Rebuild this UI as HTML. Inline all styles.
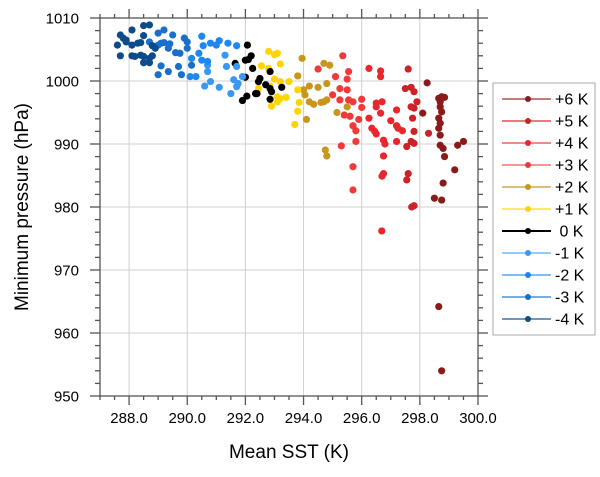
<!DOCTYPE html>
<html><head><meta charset="utf-8"><style>
body{margin:0;background:#fff;font-family:"Liberation Sans",sans-serif}
</style></head><body>
<svg id="chart" width="600" height="472" xmlns="http://www.w3.org/2000/svg" font-family="Liberation Sans, sans-serif"></svg>
<script>
const xTicks=[288,290,292,294,296,298,300];
const xTickLabels=["288.0","290.0","292.0","294.0","296.0","298.0","300.0"];
const yTicks=[950,960,970,980,990,1000,1010];
const seriesNames=["+6 K","+5 K","+4 K","+3 K","+2 K","+1 K","0 K","-1 K","-2 K","-3 K","-4 K"];
const seriesColors=["#8b1a1a","#cc2228","#e8262c","#f03a3a","#c8961e","#ffd400","#000000","#3a98f5","#1e88ee","#1a70c8","#0d4b8a"];
const legendLineColors=["#b05050","#e05050","#f06060","#f07070","#d0a850","#ffe040","#000000","#70b8f8","#50a8f0","#4c90d8","#4070a8"];
const s6=[[298.65,997.25],[298.75,997.5],[298.85,997.4],[298.7,996.7],[298.75,995.1],[298.65,994.1],[298.7,993.3],[298.65,992.5],[298.7,991.4],[298.7,989.8],[298.8,989.3],[298.85,988.0],[299.3,989.8],[299.5,990.4],[299.2,985.9],[298.8,983.8],[298.5,981.4],[298.75,981.1],[298.7,995.9],[298.65,964.2],[298.75,954.0],[298.1,994.9],[298.25,999.7]];
const s5=[[297.6,1001.9],[297.5,998.8],[297.7,999.0],[297.8,998.3],[297.9,996.7],[297.7,995.9],[297.8,995.7],[297.75,994.1],[297.8,992.0],[297.7,990.4],[297.55,989.6],[297.8,990.1],[297.6,985.3],[297.55,984.3],[298.3,991.7],[297.72,980.0],[297.8,980.2]];
const s4=[[296.25,1002.0],[296.65,1001.6],[296.65,1000.7],[296.5,996.5],[296.7,996.7],[296.5,995.9],[296.25,994.1],[296.35,992.5],[296.45,992.0],[296.5,991.6],[296.65,994.9],[296.75,990.6],[296.8,990.0],[296.75,988.1],[296.75,985.3],[296.7,984.9],[297.0,993.7],[297.2,992.9],[297.25,992.5],[297.4,992.1],[297.2,995.4],[297.2,990.4],[296.69,976.2]];
const s3=[[295.35,1004.0],[294.5,1001.9],[295.1,1000.7],[295.55,1001.5],[295.5,1000.3],[295.25,998.8],[295.5,998.6],[295.0,997.8],[295.25,997.0],[295.55,997.0],[295.7,996.7],[296.0,997.1],[295.4,994.6],[295.6,994.4],[295.7,992.9],[295.8,992.1],[295.8,990.4],[295.3,989.7],[295.7,986.4],[295.7,982.7],[295.9,993.9],[296.0,995.8]];
const s2=[[293.95,1003.6],[293.8,1000.8],[294.0,998.6],[294.2,999.2],[294.5,999.0],[294.8,999.6],[294.05,997.8],[294.2,996.7],[294.35,996.3],[294.6,996.6],[294.7,996.7],[294.8,997.0],[295.15,995.0],[294.1,993.9],[294.75,989.05],[294.8,988.1],[295.5,995.9],[294.7,1002.8],[294.9,1002.5]];
const s1=[[292.8,1004.7],[293.0,1004.2],[293.1,1004.4],[293.2,1002.7],[292.55,1002.4],[292.8,1002.0],[293.0,1000.3],[293.2,999.9],[293.5,999.9],[293.8,998.6],[293.1,997.5],[293.2,997.2],[293.4,997.4],[292.9,996.0],[293.1,996.7],[293.85,996.6],[293.8,995.2],[293.7,993.1],[292.85,999.2],[292.45,998.8]];
const s0=[[292.07,1005.7],[291.65,1002.8],[292.0,1003.3],[292.1,1003.4],[292.2,1004.0],[292.25,1002.0],[292.0,1000.6],[292.5,1000.4],[292.45,999.9],[292.7,999.4],[292.85,998.8],[292.9,998.3],[293.25,999.0],[292.4,998.0],[292.05,997.6],[291.9,996.9],[292.85,997.1],[292.85,1001.5],[292.35,998.0]];
const sm1=[[290.7,1002.5],[290.7,1001.5],[290.8,999.9],[290.6,999.2],[291.1,999.0],[291.3,1004.1],[291.35,1002.3],[291.7,1002.3],[291.6,1000.2],[291.75,999.6],[291.7,999.1],[291.9,1000.7],[291.5,998.0]];
const sm2=[[290.5,1007.1],[290.55,1005.6],[290.8,1006.0],[291.0,1005.7],[291.1,1006.4],[291.4,1006.0],[291.7,1005.6],[290.1,1000.7],[290.3,1000.7],[290.4,1004.4],[290.15,1003.6],[290.5,1003.3],[290.7,1003.1]];
const sm3=[[289.0,1007.6],[289.2,1008.1],[289.5,1007.3],[288.7,1006.2],[289.0,1005.7],[289.1,1006.0],[289.2,1006.1],[289.4,1005.9],[289.35,1005.2],[289.6,1004.5],[289.75,1004.4],[289.1,1002.4],[289.35,1001.5],[289.0,1001.0],[289.8,1001.0],[289.7,1002.3],[289.9,1006.8],[290.0,1006.2],[290.0,1005.2],[290.15,1002.5]];
const sm4=[[287.6,1005.7],[287.7,1007.3],[287.8,1006.8],[287.9,1006.5],[287.9,1006.2],[288.1,1008.1],[288.5,1008.8],[288.7,1008.9],[288.5,1007.2],[288.1,1005.7],[288.3,1006.0],[288.4,1006.1],[287.7,1004.0],[288.1,1004.0],[288.2,1003.9],[288.4,1004.1],[288.5,1003.9],[288.7,1003.6],[288.8,1004.0],[288.5,1002.9],[288.7,1002.9],[288.8,1005.6],[288.9,1005.2]];
const allSeries=[s6,s5,s4,s3,s2,s1,s0,sm1,sm2,sm3,sm4];

const L=100,R=478,T=18,B=396,xmin=287,xmax=300,ymin=950,ymax=1010;
const sx=v=>L+(v-xmin)/(xmax-xmin)*(R-L);
const sy=v=>B-(v-ymin)/(ymax-ymin)*(B-T);
const svg=document.getElementById('chart');
const NS='http://www.w3.org/2000/svg';
function mk(tag,attrs,parent){const e=document.createElementNS(NS,tag);for(const k in attrs)e.setAttribute(k,attrs[k]);(parent||svg).appendChild(e);return e;}

const grid=mk('g',{});


xTicks.forEach(t=>{if(t<xmax)mk('line',{x1:sx(t),x2:sx(t),y1:T,y2:B,stroke:'#d0d0d0','stroke-width':1},grid);});
yTicks.forEach(t=>{if(t>ymin&&t<ymax)mk('line',{x1:L,x2:R,y1:sy(t),y2:sy(t),stroke:'#d0d0d0','stroke-width':1},grid);});

const axes=mk('g',{stroke:'#555','stroke-width':1.3});


mk('rect',{x:L,y:T,width:R-L,height:B-T,fill:'none'},axes);
for(let v=xmin;v<=xmax+1e-6;v+=0.5){const maj=Math.abs(v-Math.round(v/2)*2)<1e-6;const len=maj?9:4;const x=sx(v);
 mk('line',{x1:x,x2:x,y1:B,y2:B+len},axes);mk('line',{x1:x,x2:x,y1:T,y2:T-len},axes);}
for(let v=ymin;v<=ymax;v+=2){const maj=v%10===0;const len=maj?10:5;const y=sy(v);
 mk('line',{x1:L,x2:L-len,y1:y,y2:y},axes);mk('line',{x1:R,x2:R+len,y1:y,y2:y},axes);}

xTicks.forEach((t,i)=>{const e=mk('text',{x:sx(t),y:423,'text-anchor':'middle','font-size':15,fill:'#000'});e.textContent=xTickLabels[i];
 
 });
yTicks.forEach(t=>{const e=mk('text',{x:79,y:sy(t)+5.5,'text-anchor':'end','font-size':15,fill:'#000'});e.textContent=String(t);
 
 });
const xt=mk('text',{x:(L+R)/2,y:458,'text-anchor':'middle','font-size':19,fill:'#000'});xt.textContent='Mean SST (K)';


const yt=mk('text',{x:0,y:0,'text-anchor':'middle','font-size':19,fill:'#000',transform:'translate(28,'+((T+B)/2)+') rotate(-90)'});yt.textContent='Minimum pressure (hPa)';



allSeries.forEach((s,i)=>{const g=mk('g',{fill:seriesColors[i]});
 
 
 s.forEach(p=>{const c=mk('circle',{cx:sx(p[0]),cy:sy(p[1]),r:3.6},g);
  
  });});

const lg=mk('g',{});


mk('rect',{x:493,y:83,width:102,height:252,fill:'#fff',stroke:'#aaa','stroke-width':1},lg);
seriesNames.forEach((n,i)=>{const y=99+i*22;
 const e=mk('g',{},lg);
 
 
 mk('line',{x1:502,x2:551,y1:y,y2:y,stroke:legendLineColors[i],'stroke-width':i===6?2:1.5},e);
 mk('circle',{cx:528,cy:y,r:3,fill:seriesColors[i]},e);
 const t=mk('text',{x:555,y:y+5.5,'font-size':16,fill:'#000'},e);t.textContent=(n==='0 K'?'\u00a00 K':n);});
</script>
</body></html>
